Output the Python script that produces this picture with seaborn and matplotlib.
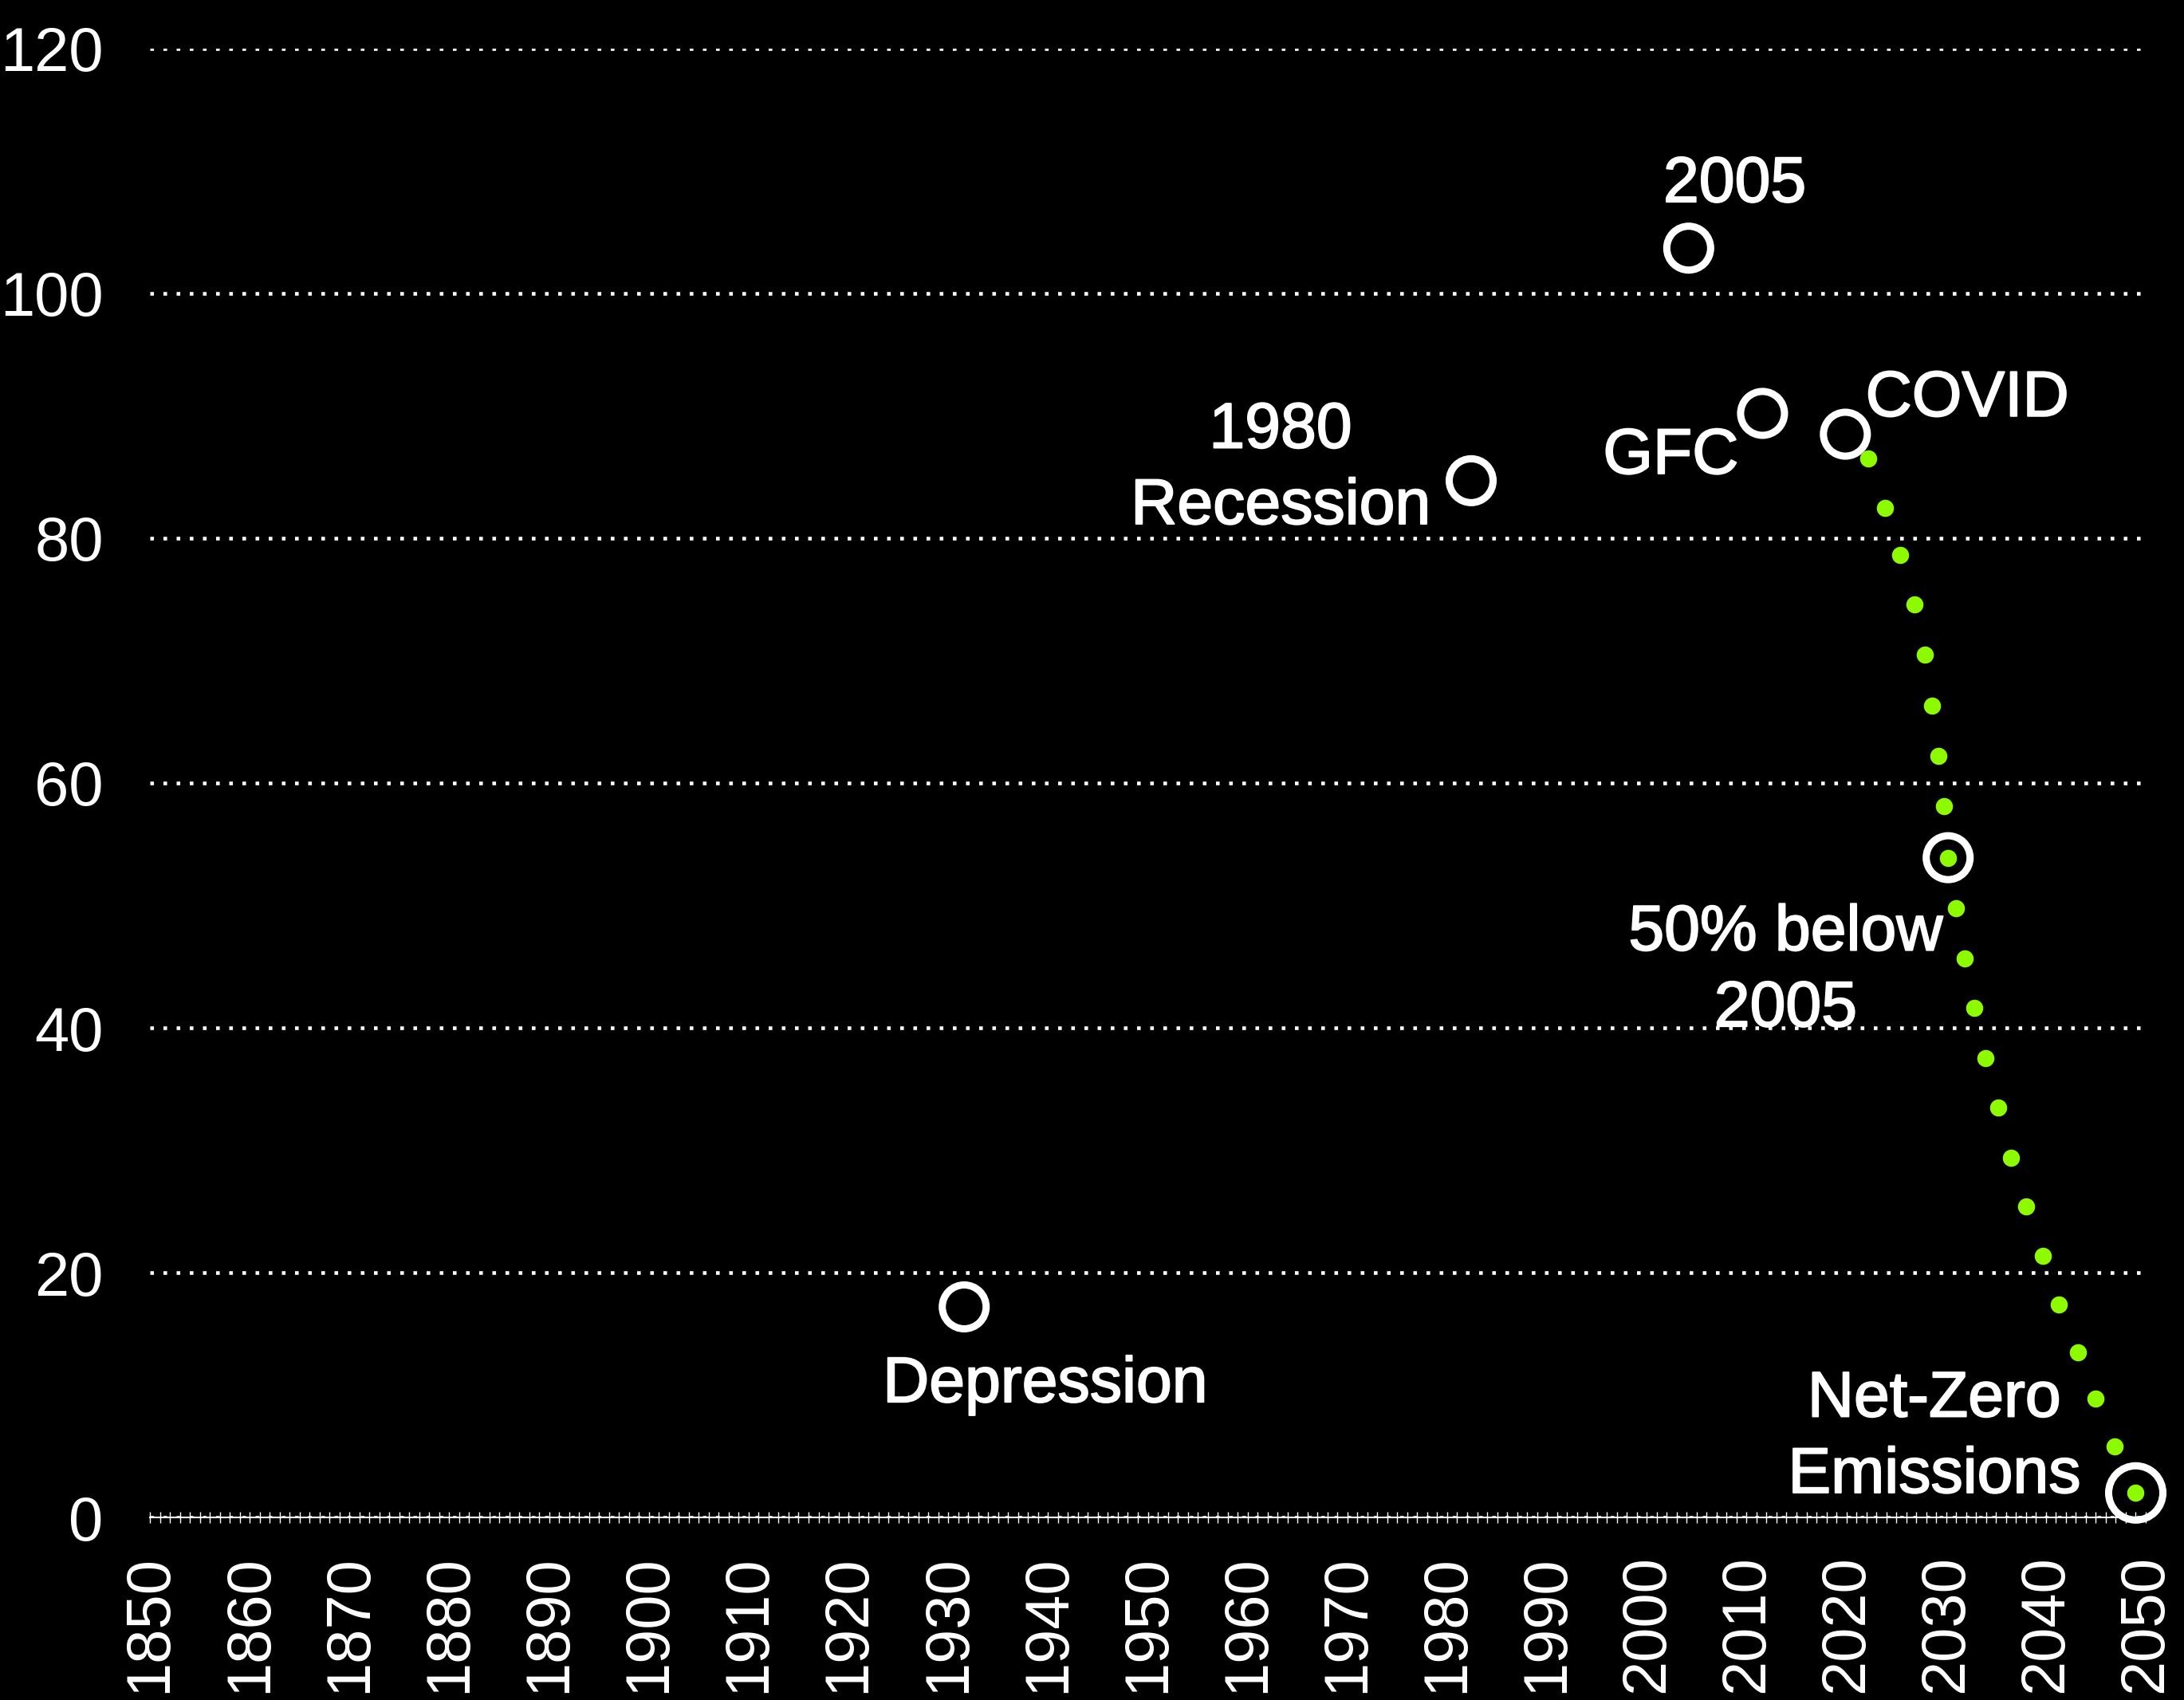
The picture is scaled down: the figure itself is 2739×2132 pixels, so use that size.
import numpy as np
import matplotlib
matplotlib.use("Agg")
import matplotlib.pyplot as plt
import matplotlib.patheffects as pe
from matplotlib.ticker import MultipleLocator
import seaborn as sns
import pandas as pd

# key events (open white circles)
event_years = [1931.6, 1982.4, 2004.2, 2011.6, 2019.9, 2030.2, 2049.0]
event_values = [17.2, 84.7, 103.7, 90.2, 88.5, 53.9, 2.0]
event_kind = ["event", "event", "event", "event", "event", "event", "target"]

# projected pathway (green dots)
path_years = [2022.2, 2023.9, 2025.4, 2026.8, 2027.9, 2028.6, 2029.2, 2029.8,
              2030.2, 2031.0, 2031.9, 2032.8, 2033.9, 2035.2, 2036.5, 2038.0,
              2039.7, 2041.3, 2043.2, 2045.0, 2046.9, 2049.0]
path_values = [86.5, 82.5, 78.6, 74.6, 70.5, 66.3, 62.2, 58.1,
               53.9, 49.8, 45.7, 41.6, 37.5, 33.5, 29.4, 25.4,
               21.4, 17.4, 13.5, 9.7, 5.8, 2.0]

# annotation labels
label_texts = ["Depression", "1980\nRecession", "2005", "GFC", "COVID",
               "50% below\n2005", "Net-Zero\nEmissions"]
label_x = [1939.7, 1963.3, 2008.8, 2002.4, 2032.1, 2013.9, 2028.8]
label_y = [10.8, 85.65, 108.85, 86.65, 91.35, 44.6, 6.5]

y_ticks = [0, 20, 40, 60, 80, 100, 120]
x_ticks = list(range(1850, 2051, 10))

sns.set_theme(style="dark")
plt.rcParams["font.family"] = ["Liberation Sans", "DejaVu Sans"]

events = pd.DataFrame({"year": event_years, "value": event_values, "kind": event_kind})
path = pd.DataFrame({"year": path_years, "value": path_values})

fig = plt.figure(figsize=(27.39, 21.32), dpi=100, facecolor="black")
ax = fig.add_axes([0.06864, 0.10741, 0.91384, 0.86398])
ax.set_facecolor("black")

sns.scatterplot(data=events, x="year", y="value", size="kind",
                sizes={"event": 1570, "target": 2400}, legend=False,
                facecolor="none", edgecolor="white", linewidth=6.5,
                ax=ax, clip_on=False, zorder=3)
sns.scatterplot(data=path, x="year", y="value", color="#8efa00", s=240,
                linewidth=0, ax=ax, clip_on=False, zorder=4)

for txt, x, y in zip(label_texts, label_x, label_y):
    ax.text(x, y, txt, color="white", fontsize=58, ha="center", va="center",
            linespacing=1.33, zorder=5,
            path_effects=[pe.withStroke(linewidth=1.4, foreground="white")])

ax.set_xlim(1850, 2050)
ax.set_ylim(0, 120)
ax.set_xticks(x_ticks)
ax.set_xticklabels([str(t) for t in x_ticks], rotation=90)
ax.xaxis.set_minor_locator(MultipleLocator(1))
ax.set_yticks(y_ticks)
ax.set_xlabel("")
ax.set_ylabel("")

ax.tick_params(axis="x", which="both", direction="inout", length=9.5, width=1,
               color="white", labelcolor="white", labelsize=56, pad=29,
               bottom=True)
ax.tick_params(axis="y", length=0, labelcolor="white", labelsize=56, pad=42)

ax.grid(False)
ax.yaxis.grid(True, color="white", linewidth=3.3, linestyle=(0, (1, 2.6)))
ax.set_axisbelow(True)

for side in ["top", "right", "left"]:
    ax.spines[side].set_visible(False)
ax.spines["bottom"].set_color("white")
ax.spines["bottom"].set_linewidth(1.5)

fig.savefig("out.png", dpi=100, facecolor="black")
